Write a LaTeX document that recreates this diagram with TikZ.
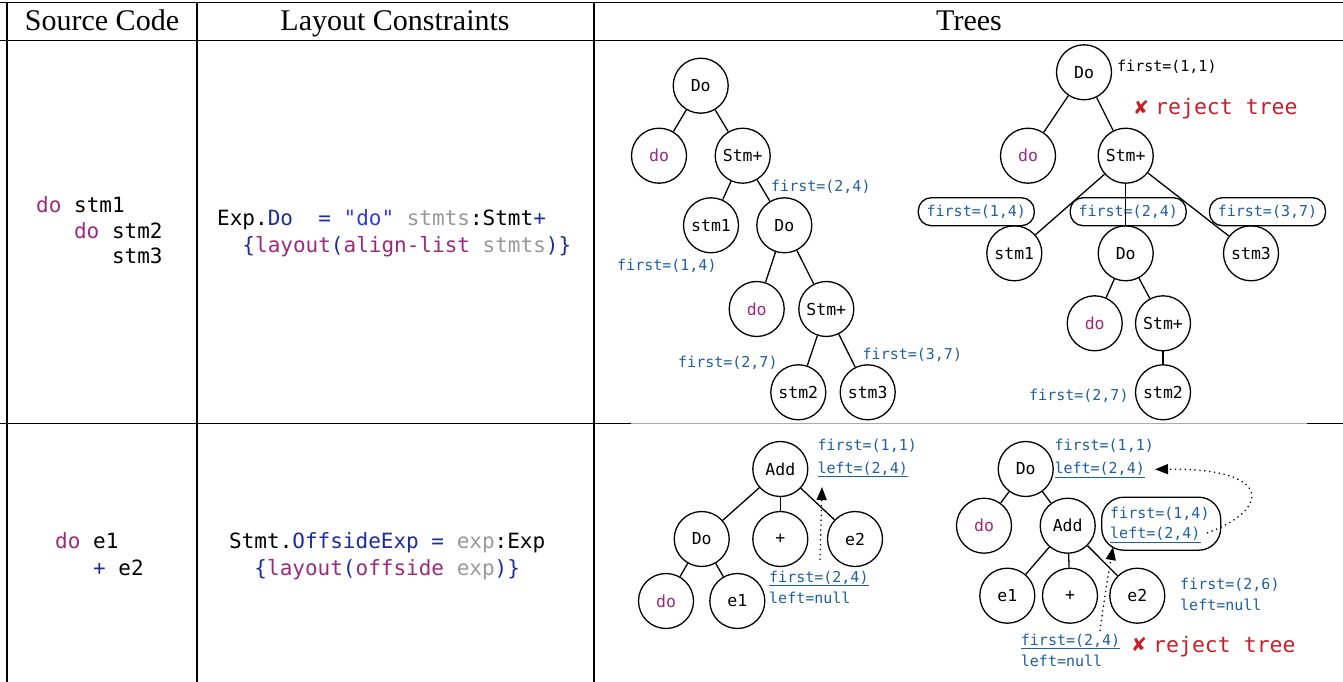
\documentclass[tikz,border=0pt]{standalone}
\usepackage{fontspec}
\setmainfont{Liberation Serif}
\setmonofont{DejaVu Sans Mono}
\newfontfamily\symfont{DejaVu Sans}
\usetikzlibrary{arrows.meta}
\definecolor{lblblue}{HTML}{1F5FA0}
\definecolor{kwpurple}{HTML}{9B2A7C}
\definecolor{navy}{HTML}{1C2C9C}
\definecolor{strblue}{HTML}{2B3BE8}
\definecolor{vargrey}{HTML}{999999}
\definecolor{rejred}{HTML}{C8202A}
\definecolor{rulegrey}{HTML}{AAAAAA}
\newcommand\hdrfont{\rmfamily\fontsize{30}{34}\selectfont}
\newcommand\codefont{\ttfamily\fontsize{21}{25}\selectfont}
\newcommand\nodefont{\ttfamily\fontsize{16.5}{19}\selectfont}
\newcommand\lblfont{\ttfamily\fontsize{15}{18}\selectfont}
\newcommand\rejfont{\ttfamily\fontsize{21.5}{25}\selectfont}
\newcommand\kw[1]{\textcolor{kwpurple}{#1}}
\newcommand\nv[1]{\textcolor{navy}{#1}}
\newcommand\gr[1]{\textcolor{vargrey}{#1}}
\tikzset{
  tnode/.style={circle, draw=black, line width=1.3pt, minimum size=55pt, inner sep=0pt, font=\nodefont},
  edge/.style={line width=1.3pt},
  lbl/.style={font=\lblfont, text=lblblue, anchor=base west, inner sep=0pt},
  lblbox/.style={draw=black, line width=1.3pt, rounded corners=13pt, minimum width=116pt, minimum height=28pt, inner sep=0pt, font=\lblfont, text=lblblue},
  tablerule/.style={line width=1.2pt},
  hdr/.style={font=\hdrfont, inner sep=0pt, anchor=base},
  code/.style={font=\codefont, anchor=base west, inner sep=0pt},
  rej/.style={font=\rejfont, text=rejred, anchor=base west, inner sep=0pt},
  rejx/.style={font=\symfont\fontsize{19}{22}\selectfont, text=rejred, anchor=base west, inner sep=0pt},
  darrow/.style={line width=1.3pt, dash pattern=on 1.3pt off 3.6pt, -{Triangle[length=13pt,width=10pt]}}
}
\begin{document}
\begin{tikzpicture}[x=1pt,y=-1pt]
\useasboundingbox (0,0) rectangle (1343,682);
% table rules
\draw[tablerule] (0,2.5) -- (1343,2.5);
\draw[tablerule] (0,40.5) -- (1343,40.5);
\draw[tablerule] (0,423.5) -- (631,423.5);
\draw[tablerule, rulegrey, line width=1pt] (631,423.5) -- (1307,423.5);
\draw[tablerule] (1307,423.5) -- (1343,423.5);
\draw[tablerule] (7,2.5) -- (7,682);
\draw[tablerule] (197,2.5) -- (197,682);
\draw[tablerule] (594,2.5) -- (594,682);
% headers
\node[hdr] (h1) at (102,30.5) {Source Code};
\node[hdr] (h2) at (395,30.5) {Layout Constraints};
\node[hdr] (h3) at (969,30.5) {Trees};
% row 1 code
\node[code] (sc1) at (36,212) {\kw{do} stm1};
\node[code] (sc2) at (73.9,238) {\kw{do} stm2};
\node[code] (sc3) at (111.8,263) {stm3};
\node[code] (lc1) at (217,225) {Exp.\nv{Do}~~\nv{=} \textcolor{strblue}{"do"} \gr{stmts}:Stmt\nv{+}};
\node[code] (lc2) at (217,252) {~~\nv{\{}\kw{layout}\nv{(}\kw{align-list} \gr{stmts}\nv{)\}}};
% row 2 code
\node[code] (sd1) at (55,548) {\kw{do} e1};
\node[code] (sd2) at (92.9,575) {\nv{+} e2};
\node[code] (ld1) at (229,548) {Stmt.\nv{OffsideExp} \nv{=} \gr{exp}:Exp};
\node[code] (ld2) at (229,575) {~~\nv{\{}\kw{layout}\nv{(}\kw{offside} \gr{exp}\nv{)\}}};

% ---------- Tree A ----------
\node[tnode] (a1) at (700.7,85.7) {Do};
\node[tnode, text=kwpurple] (a2) at (659,155.7) {do};
\node[tnode] (a3) at (742.7,155.7) {Stm+};
\node[tnode] (a4) at (711,225.3) {stm1};
\node[tnode] (a5) at (784.3,225.3) {Do};
\node[tnode, text=kwpurple] (a6) at (756.7,309) {do};
\node[tnode] (a7) at (826.3,309) {Stm+};
\node[tnode] (a8) at (798.3,392.3) {stm2};
\node[tnode] (a9) at (867.7,392.3) {stm3};
\draw[edge] (a1) -- (a2);
\draw[edge] (a1) -- (a3);
\draw[edge] (a3) -- (a4);
\draw[edge] (a3) -- (a5);
\draw[edge] (a5) -- (a6);
\draw[edge] (a5) -- (a7);
\draw[edge] (a7) -- (a8);
\draw[edge] (a7) -- (a9);
\node[lbl] (la1) at (771,191) {first=(2,4)};
\node[lbl] (la2) at (617,270) {first=(1,4)};
\node[lbl] (la3) at (678,367) {first=(2,7)};
\node[lbl] (la4) at (862.5,359) {first=(3,7)};

% ---------- Tree B ----------
\node[tnode] (b1) at (1084,72.3) {Do};
\node[tnode, text=kwpurple] (b2) at (1028,155.7) {do};
\node[tnode] (b3) at (1125.7,155.7) {Stm+};
\node[tnode] (b4) at (1014.3,253.3) {stm1};
\node[tnode] (b5) at (1125.7,253.3) {Do};
\node[tnode] (b6) at (1251,253.3) {stm3};
\node[tnode, text=kwpurple] (b7) at (1094.7,323.3) {do};
\node[tnode] (b8) at (1163,323.3) {Stm+};
\node[tnode] (b9) at (1163,392.3) {stm2};
\node[lblbox] (bb1) at (976.3,211.7) {first=(1,4)};
\node[lblbox] (bb2) at (1128.2,211.7) {first=(2,4)};
\node[lblbox] (bb3) at (1267.5,211.7) {first=(3,7)};
\draw[edge] (b1) -- (b2);
\draw[edge] (b1) -- (b3);
\draw[edge] (b3) -- (b4);
\draw[edge] (b3) -- (b5);
\draw[edge] (b3) -- (b6);
\draw[edge] (b5) -- (b7);
\draw[edge] (b5) -- (b8);
\draw[edge] (b8) -- (b9);
\node[lbl, text=black] (lb1) at (1117,72) {first=(1,1)};
\node[lbl] (lb2) at (1029,400.5) {first=(2,7)};
\node[rejx] (rbx) at (1133,114) {✘};
\node[rej] (rbt) at (1155,115) {reject tree};

% ---------- Tree C ----------
\node[tnode] (c1) at (780.3,469) {Add};
\node[tnode] (c2) at (701.7,539) {Do};
\node[tnode] (c3) at (780.3,539) {+};
\node[tnode] (c4) at (855,539) {e2};
\node[tnode, text=kwpurple] (c5) at (666,601) {do};
\node[tnode] (c6) at (737.3,601) {e1};
\draw[edge] (c1) -- (c2);
\draw[edge] (c1) -- (c3);
\draw[edge] (c1) -- (c4);
\draw[edge] (c2) -- (c5);
\draw[edge] (c2) -- (c6);
\node[lbl] (lc1a) at (817.3,450) {first=(1,1)};
\node[lbl] (lc1b) at (817.3,473) {\underline{left=(2,4)}};
\node[lbl] (lc2a) at (769,582) {\underline{first=(2,4)}};
\node[lbl] (lc2b) at (769,603) {left=null};
\coordinate (ca0) at (820,560);
\coordinate (ca1) at (822,487);
\draw[darrow] (ca0) -- (ca1);

% ---------- Tree D ----------
\node[tnode] (d1) at (1025.7,469) {Do};
\node[tnode, text=kwpurple] (d2) at (984,525.7) {do};
\node[tnode] (d3) at (1067.7,525.7) {Add};
\node[tnode] (d4) at (1007.3,595.7) {e1};
\node[tnode] (d5) at (1070,595.7) {+};
\node[tnode] (d6) at (1137.3,595.7) {e2};
\draw[edge] (d1) -- (d2);
\draw[edge] (d1) -- (d3);
\draw[edge] (d3) -- (d4);
\draw[edge] (d3) -- (d5);
\draw[edge] (d3) -- (d6);
\node[lbl] (ld1a) at (1054.3,450) {first=(1,1)};
\node[lbl] (ld1b) at (1054.3,473.5) {\underline{left=(2,4)}};
\node[draw=black, line width=1.3pt, rounded corners=22pt, minimum width=119pt, minimum height=53pt, inner sep=0pt] (dbox) at (1161.2,523.7) {};
\node[lbl] (ld2a) at (1110,518) {first=(1,4)};
\node[lbl] (ld2b) at (1110,538.5) {\underline{left=(2,4)}};
\node[lbl] (ld3a) at (1180,589.5) {first=(2,6)};
\node[lbl] (ld3b) at (1180,610) {left=null};
\node[lbl] (ld4a) at (1020.7,645) {\underline{first=(2,4)}};
\node[lbl] (ld4b) at (1020.7,666) {left=null};
\node[rejx] (rdx) at (1131,651) {✘};
\node[rej] (rdt) at (1153,652) {reject tree};
\coordinate (da0) at (1207,533);
\coordinate (da1) at (1155,469.3);
\draw[darrow] (da0) .. controls (1270,510) and (1275,468) .. (da1);
\coordinate (db0) at (1100,631);
\coordinate (db1) at (1113,547);
\draw[darrow] (db0) .. controls (1104,600) and (1109,570) .. (db1);
\end{tikzpicture}
\end{document}
